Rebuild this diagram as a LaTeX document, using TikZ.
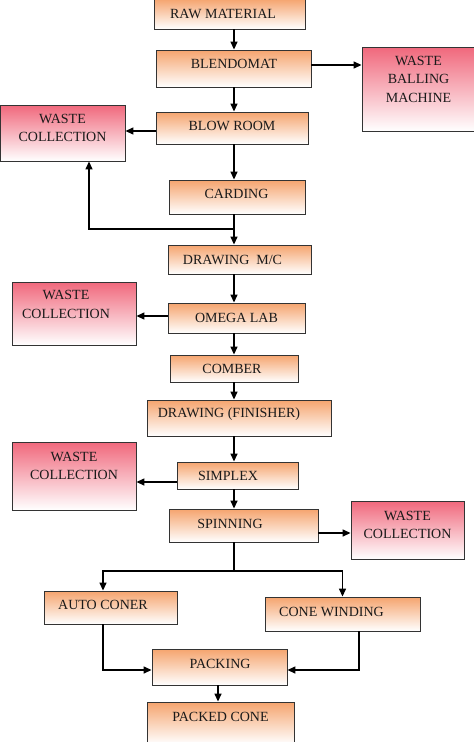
\documentclass[tikz,border=0pt]{standalone}
\usepackage{fontspec}
\setmainfont{Liberation Serif}
\usepackage{xcolor}
\definecolor{cStage}{HTML}{F5A46E}
\definecolor{cWaste}{HTML}{F0687C}
\definecolor{cEdge}{HTML}{333333}
\definecolor{cInk}{HTML}{1A1A1A}
\usetikzlibrary{arrows.meta,calc}
\tikzset{
  stage-box/.style={draw=cEdge,line width=0.9pt,top color=cStage,
    bottom color=white,inner sep=0pt},
  waste-box/.style={draw=cEdge,line width=0.9pt,top color=cWaste,
    bottom color=white,inner sep=0pt},
  box-text/.style={font=\fontsize{14}{18.5}\selectfont,text=cInk,
    align=center,inner sep=0pt},
  arrow/.style={-{Triangle[length=8pt,width=7pt]},line width=1.4pt,draw=black},
  link/.style={line width=1.4pt,draw=black},
}

\begin{document}
\begin{tikzpicture}[x=1pt,y=-1pt]
  \useasboundingbox (0,0) rectangle (474,742);
  % process stages: name/x/y/width/height/text dx/text dy/text
  \foreach \name/\x/\y/\w/\h/\dx/\dy/\txt in {
      raw/229.5/14/151/30/-6.5/0/{RAW MATERIAL},
      blend/233.5/68.5/155/37/0.5/-4.5/{BLENDOMAT},
      blow/232/128/152/32/0/-2/{BLOW ROOM},
      card/237/197/136/34/-0.5/-3/{CARDING},
      dmc/239.5/259.5/143/29/-7/0/{DRAWING~~M/C},
      omega/236.5/318/137/30/0/0/{OMEGA LAB},
      comber/234/368.5/128/27/-2/0/{COMBER},
      dfin/239/418/184/36/-10/-4/{DRAWING (FINISHER)},
      simplex/237.5/475.5/121/27/-9.5/0/{SIMPLEX},
      spin/243.5/525.5/149/33/-13.5/-1.5/{SPINNING},
      auto/110.5/607.5/133/33/-7.5/-2.5/{AUTO CONER},
      conew/342.5/614/155/34/-11/-2/{CONE WINDING},
      pack/219.5/667/135/36/0.5/-3/{PACKING},
      packed/220.5/723/147/42/0/-6/{PACKED CONE}} {
    \node[stage-box,minimum width=\w,minimum height=\h] (\name) at (\x,\y) {};
    \node[box-text] (\name-txt) at ([shift={(\dx,\dy)}]\name.center) {\txt};
  }
  % waste outlets
  \foreach \name/\x/\y/\w/\h/\dx/\dy/\txt in {
      wbm/418.5/89/113/84/0/-10/{WASTE\\BALLING\\MACHINE},
      wc1/62.5/133/125/56/0/-5/{WASTE\\COLLECTION},
      wc2/74/313.5/124/63/-8/-9/{WASTE\\COLLECTION},
      wc3/74/476/124/68/0/-10/{WASTE\\COLLECTION},
      wc4/407.5/530/113/58/0/-5/{WASTE\\COLLECTION}} {
    \node[waste-box,minimum width=\w,minimum height=\h] (\name) at (\x,\y) {};
    \node[box-text] (\name-txt) at ([shift={(\dx,\dy)}]\name.center) {\txt};
  }

  \coordinate (spine) at (234,0);
  \coordinate (card-split) at (234,229);
  \coordinate (spin-split) at (234,571);

  \draw[arrow] (raw.south -| spine) -- (blend.north -| spine);
  \draw[arrow] ([yshift=3.5pt]blend.east) -- ([yshift=3.5pt]blend.east -| wbm.west);
  \draw[arrow] (blend.south -| spine) -- (blow.north -| spine);
  \draw[arrow] ([yshift=-3pt]blow.west) -- ([yshift=-3pt]blow.west -| wc1.east);
  \draw[arrow] (blow.south -| spine) -- (card.north -| spine);
  \draw[arrow] (card.south -| spine) -- (dmc.north -| spine);
  \draw[arrow] (card-split) -| ([xshift=26.5pt]wc1.south);
  \draw[arrow] (dmc.south -| spine) -- (omega.north -| spine);
  \draw[arrow] ([yshift=2pt]omega.west) -- ([yshift=2pt]omega.west -| wc2.east);
  \draw[arrow] (omega.south -| spine) -- (comber.north -| spine);
  \draw[arrow] (comber.south -| spine) -- (dfin.north -| spine);
  \draw[arrow] (dfin.south -| spine) -- (simplex.north -| spine);
  \draw[arrow] ([yshift=-6.5pt]simplex.west) -- ([yshift=-6.5pt]simplex.west -| wc3.east);
  \draw[arrow] (simplex.south -| spine) -- (spin.north -| spine);
  \draw[arrow] ([yshift=-7.5pt]spin.east) -- ([yshift=-7.5pt]spin.east -| wc4.west);
  \draw[link] (spin.south -| spine) -- (spin-split);
  \draw[arrow] (spin-split) -| ([xshift=-7.5pt]auto.north);
  \draw[arrow] (spin-split) -| (conew.north);
  \draw[arrow] ([xshift=-7.5pt]auto.south) |- ([yshift=-3pt]pack.west);
  \draw[arrow] ([xshift=16.5pt]conew.south) |- ([yshift=-3pt]pack.east);
  \draw[arrow] ([xshift=-1.5pt]pack.south) -- ([xshift=-1.5pt]pack.south |- packed.north);
\end{tikzpicture}
\end{document}
